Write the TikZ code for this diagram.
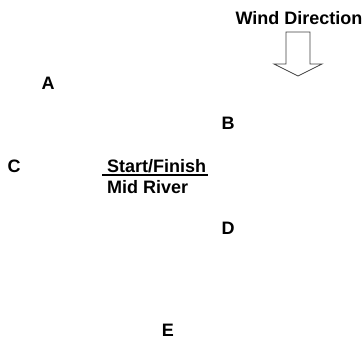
\documentclass[tikz,border=0pt]{standalone}
\usepackage{fontspec}
\setmainfont{Liberation Sans}
\usetikzlibrary{positioning,calc}
\tikzset{
lbl/.style = {font=\fontsize{18}{21}\selectfont\bfseries, inner sep=1pt},
windarrow/.style = {draw=black!75, fill=white, line width=0.8pt, line join=miter}
}

\begin{document}
\begin{tikzpicture}[x=1pt, y=-1pt]
    \useasboundingbox (0,0) rectangle (364,339);

    \node[lbl] (wind) at (299,18) {Wind Direction};
    \coordinate (tip) at (298,76);
    \draw[windarrow] ($(tip)+(-12,-44)$) -- ($(tip)+(12,-44)$) -- ($(tip)+(12,-12)$) -- ($(tip)+(24,-12)$)
        -- (tip) -- ($(tip)+(-24,-12)$) -- ($(tip)+(-12,-12)$) -- cycle;

    \node[lbl] (A) at (48,83) {A};
    \node[lbl] (B) at (228,123) {B};
    \node[lbl] (C) at (14,166) {C};
    \node[lbl] (D) at (228,228) {D};
    \node[lbl] (E) at (168,330) {E};

    \node[lbl, anchor=west] (start) at (106,166) {Start/Finish};
    \node[lbl, anchor=west] (mid) at (106,187) {Mid River};
    \draw[line width=1.5pt] ($(start.west)+(-4,9)$) -- ($(start.east)+(1,9)$);
\end{tikzpicture}
\end{document}
